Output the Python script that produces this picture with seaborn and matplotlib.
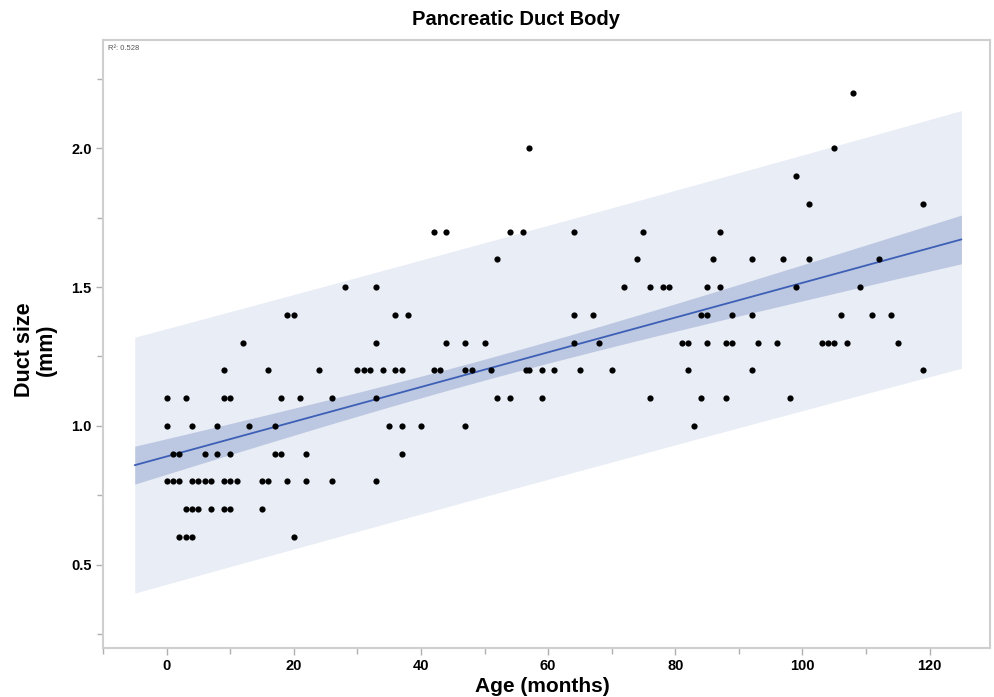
import numpy as np
import pandas as pd
import matplotlib
matplotlib.use("Agg")
import matplotlib.pyplot as plt
from matplotlib.ticker import MultipleLocator
import seaborn as sns

# ---- data: ages (months) grouped by duct size (mm) ----
size_2_2 = [108]
size_2_0 = [57, 105]
size_1_9 = [99]
size_1_8 = [101, 119]
size_1_7 = [42, 44, 54, 56, 64, 75, 87]
size_1_6 = [52, 74, 86, 92, 97, 101, 112]
size_1_5 = [28, 33, 72, 76, 78, 79, 85, 87, 99, 109]
size_1_4 = [19, 20, 36, 38, 64, 67, 84, 85, 89, 92, 106, 111, 114]
size_1_3 = [12, 33, 44, 47, 50, 64, 68, 81, 82, 85, 88, 89, 93, 96, 103, 104, 105, 107, 115]
size_1_2 = [9, 16, 24, 30, 31, 32, 34, 36, 37, 42, 43, 47, 48, 51, 56.5, 57, 59, 61, 65, 70, 82, 92, 119]
size_1_1 = [0, 3, 9, 10, 18, 21, 26, 33, 52, 54, 59, 76, 84, 88, 98]
size_1_0 = [0, 4, 8, 13, 17, 35, 37, 40, 47, 83]
size_0_9 = [1, 2, 6, 8, 10, 17, 18, 22, 37]
size_0_8 = [0, 1, 2, 4, 5, 6, 7, 9, 10, 11, 15, 16, 19, 22, 26, 33]
size_0_7 = [3, 4, 5, 7, 9, 10, 15]
size_0_6 = [2, 3, 4, 20]

groups = {
    2.2: size_2_2, 2.0: size_2_0, 1.9: size_1_9, 1.8: size_1_8, 1.7: size_1_7,
    1.6: size_1_6, 1.5: size_1_5, 1.4: size_1_4, 1.3: size_1_3, 1.2: size_1_2,
    1.1: size_1_1, 1.0: size_1_0, 0.9: size_0_9, 0.8: size_0_8, 0.7: size_0_7,
    0.6: size_0_6,
}
rows = [(a, v) for v, ages in groups.items() for a in ages]
df = pd.DataFrame(rows, columns=["age", "duct"])

x_ticks = [0, 20, 40, 60, 80, 100, 120]
y_ticks = [0.5, 1.0, 1.5, 2.0]
title = "Pancreatic Duct Body"
x_label = "Age (months)"
y_label = "Duct size\n(mm)"
r2_text = "R\u00b2: 0.528"

# ---- fit ----
x = df["age"].to_numpy(float)
y = df["duct"].to_numpy(float)
n = len(x)
b1, b0 = np.polyfit(x, y, 1)
resid = y - (b0 + b1 * x)
s = np.sqrt(np.sum(resid ** 2) / (n - 2))
xbar = x.mean()
sxx = np.sum((x - xbar) ** 2)
tval = 1.976
grid = np.linspace(-5, 125, 200)
yhat = b0 + b1 * grid
se_mean = s * np.sqrt(1 / n + (grid - xbar) ** 2 / sxx)
se_pred = s * np.sqrt(1 + 1 / n + (grid - xbar) ** 2 / sxx)
fit = pd.DataFrame({"age": grid, "duct": yhat})

# ---- plot ----
sns.set_style("white")
plt.rcParams["font.family"] = ["Liberation Sans", "DejaVu Sans"]
plt.rcParams["text.color"] = "black"

fig = plt.figure(figsize=(9.94, 6.97), dpi=100)
ax = fig.add_axes([0.1036, 0.0703, 0.996 - 0.1036, 0.9426 - 0.0703])

ax.fill_between(grid, yhat - tval * se_pred, yhat + tval * se_pred,
                color="#e9edf6", linewidth=0, zorder=1)
ax.fill_between(grid, yhat - tval * se_mean, yhat + tval * se_mean,
                color="#bcc7e1", linewidth=0, zorder=2)
sns.lineplot(data=fit, x="age", y="duct", ax=ax, color="#3d5fb5",
             linewidth=1.3, zorder=3)
sns.scatterplot(data=df, x="age", y="duct", ax=ax, color="black",
                s=20, linewidth=0, zorder=4)

ax.set_xlim(-10, 129.5)
ax.set_ylim(0.2, 2.39)
ax.set_xticks(x_ticks)
ax.set_yticks(y_ticks)
ax.xaxis.set_minor_locator(MultipleLocator(10))
ax.yaxis.set_minor_locator(MultipleLocator(0.25))
ax.set_xticklabels([str(t) for t in x_ticks], fontsize=10.5, fontweight="bold")
ax.set_yticklabels([f"{t:.1f}" for t in y_ticks], fontsize=10.5, fontweight="bold")
ax.tick_params(axis="both", which="both", direction="out", length=5,
               color="#b0b0b0", width=1, pad=3, labelcolor="black",
               bottom=True, left=True, top=False, right=False)
ax.tick_params(axis="both", which="minor", length=4)

for sp in ax.spines.values():
    sp.set_visible(True)
    sp.set_color("#cfcfcf")
    sp.set_linewidth(1.5)

ax.set_xlabel("")
ax.set_ylabel("")
fig.text(0.546, 1 - 687 / 697, x_label, ha="center", va="center",
         fontsize=15, fontweight="bold", color="black")
fig.text(35 / 994, 1 - 350 / 697, y_label, ha="center", va="center",
         rotation=90, fontsize=15.5, fontweight="bold", linespacing=1.05,
         color="black")
fig.text(0.519, 0.972, title, ha="center", va="center",
         fontsize=14.5, fontweight="bold", color="black")
ax.text(0.006, 0.992, r2_text, transform=ax.transAxes, ha="left", va="top",
        fontsize=5.5, color="#555555")

fig.savefig("out.png", dpi=100)
